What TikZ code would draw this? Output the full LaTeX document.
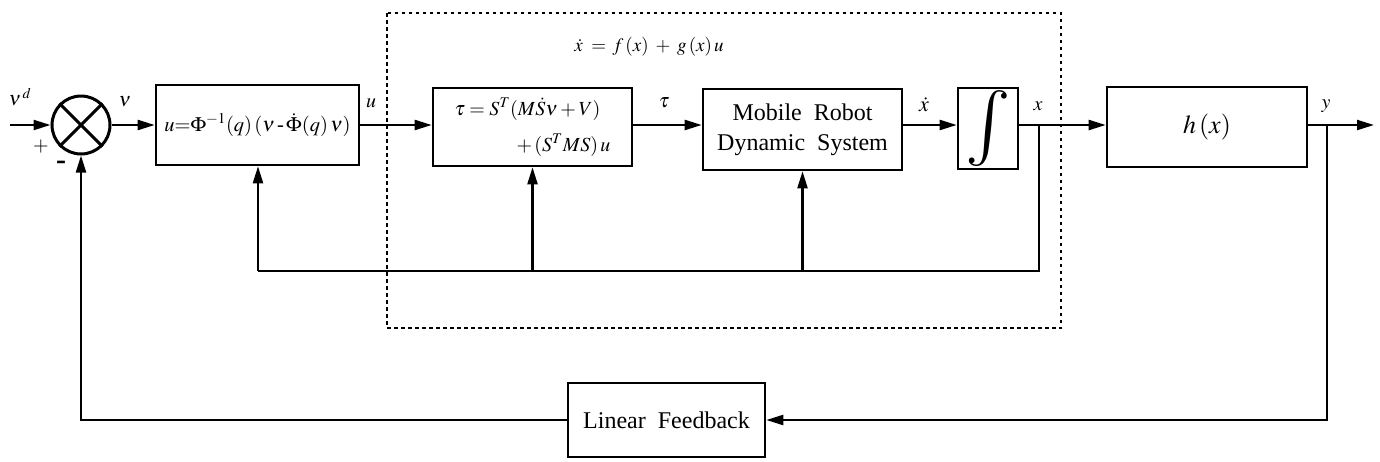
\documentclass[tikz,border=0pt]{standalone}
\usepackage{graphicx}
\usepackage{mathptmx}
\usepackage{fontspec}
\setmainfont{Liberation Serif}
\usetikzlibrary{arrows.meta}
\begin{document}
\begin{tikzpicture}[x=1pt,y=-1pt,
  blk/.style={draw,line width=2.6pt,inner sep=0pt,align=center,font=\fontsize{24}{30}\selectfont},
  conn/.style={line width=2.2pt},
  arr/.style={line width=2.2pt,-{Triangle[length=17pt,width=10pt]}},
  lbl/.style={inner sep=0pt,font=\fontsize{20}{24}\selectfont},
  dotbox/.style={line width=2.8pt,dash pattern=on 3.5pt off 3.5pt}]
\useasboundingbox (0,0) rectangle (1380,461);

% blocks
\node[circle,draw,line width=3pt,minimum size=58pt,inner sep=0pt] (sum) at (81,125) {};
\draw[line width=3pt] (sum.45) -- (sum.225) (sum.135) -- (sum.315);
\node[blk,minimum width=203pt,minimum height=80pt,font=\fontsize{20.5}{24}\selectfont] (box1) at (257.5,125)
  {$u{=}\Phi^{-1}(q)\,(\nu\,\mbox{-}\,\dot{\Phi}(q)\,\nu)$};
\node[blk,minimum width=199pt,minimum height=78pt,align=left,font=\fontsize{20}{24}\selectfont] (box2) at (532.5,127)
  {$\tau = S^{T}(M\dot{S}\nu+V)$\\[12pt] \hspace*{62pt}$+\,(S^{T}MS)\,u$};
\node[blk,minimum width=199pt,minimum height=81pt] (box3) at (802.5,129.5)
  {Mobile~ Robot\\ Dynamic~ System};
\node[blk,minimum width=60pt,minimum height=81pt] (intb) at (988,128.5)
  {\resizebox{!}{57pt}{$\int$}};
\node[blk,minimum width=200pt,minimum height=80pt,font=\fontsize{26}{30}\selectfont] (hbox) at (1207,127)
  {$h\,(x)$};
\node[blk,minimum width=197pt,minimum height=74pt] (lfb) at (666.5,420)
  {Linear~ Feedback};

% dotted subsystem frame
\draw[dotbox] (387,13) rectangle (1061,328);

% coordinates
\coordinate (m) at (0,125);
\coordinate (vin) at (10,125);
\coordinate (xb) at (1039,125);
\coordinate (yb) at (1327,125);
\coordinate (yout) at (1374,125);
\coordinate (fb) at (258,271);

% forward path
\draw[arr] (vin) -- (sum.west);
\draw[arr] (sum.east) -- (sum.east -| box1.west);
\draw[arr] (box1.east |- m) -- (box2.west |- m);
\draw[arr] (box2.east |- m) -- (box3.west |- m);
\draw[arr] (box3.east |- m) -- (intb.west |- m);
\draw[conn] (intb.east |- m) -- (xb);
\draw[arr] (xb) -- (hbox.west |- m);
\draw[conn] (hbox.east |- m) -- (yb);
\draw[arr] (yb) -- (yout);

% inner state feedback
\draw[conn] (xb) |- (fb);
\draw[arr] (fb) -- (fb |- box1.south);
\draw[arr] (box2.south |- fb) -- (box2.south);
\draw[arr] (box3.south |- fb) -- (box3.south);

% outer feedback
\draw[arr] (yb) |- (lfb.east);
\draw[arr] (lfb.west) -| (sum.south);

% labels
\node[lbl] (lvd) at (20,97) {$\nu^{\,d}$};
\node[lbl] (lplus) at (41,147) {$+$};
\node[lbl,font=\fontsize{30}{30}\selectfont\bfseries] (lminus) at (61,165) {-};
\node[lbl] (lnu) at (125,102) {$\nu$};
\node[lbl] (lu) at (371,103) {$u$};
\node[lbl,font=\fontsize{19}{22}\selectfont] (leq) at (649,47) {$\dot{x}\;=\,f\,(x)\;+\;g\,(x)\,u$};
\node[lbl] (ltau) at (664,103) {$\tau$};
\node[lbl,font=\fontsize{22}{24}\selectfont] (lxd) at (924,105) {$\dot{x}$};
\node[lbl] (lx) at (1038,106) {$x$};
\node[lbl] (ly) at (1326,106) {$y$};
\end{tikzpicture}
\end{document}
